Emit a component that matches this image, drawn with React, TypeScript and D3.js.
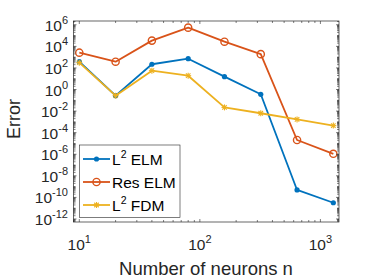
// @ts-nocheck
import React from "react";
import { scaleLog, line, range } from "d3";

const neurons = [10, 20, 40, 80, 160, 320, 640, 1280];
const l2Elm = [380, 0.27, 220, 720, 15.5, 0.36, 4.9e-10, 3.2e-11];
const resElm = [2600, 380, 3.4e4, 5.4e5, 2.7e4, 1900, 2.1e-5, 1.1e-6];
const l2Fdm = [310, 0.27, 56, 19, 0.022, 6.3e-3, 1.7e-3, 4.5e-4];

const xTickExps = [1, 2, 3];
const yTickExps = [6, 4, 2, 0, -2, -4, -6, -8, -10, -12];

const COLORS = ["#0072BD", "#D95319", "#EDB120"];
const FONT = "'Liberation Sans', Arial, Helvetica, sans-serif";
const AX = "#262626";

const box = { left: 73.5, right: 339, top: 21, bottom: 222 };

function Marker({ kind, x, y, color }) {
  if (kind === "dot") return <circle cx={x} cy={y} r={2.6} fill={color} />;
  if (kind === "circle")
    return <circle cx={x} cy={y} r={3.6} fill="none" stroke={color} strokeWidth={1.4} />;
  const s = 3;
  return (
    <g stroke={color} strokeWidth={1.1}>
      <line x1={x - s} x2={x + s} y1={y} y2={y} />
      <line x1={x} x2={x} y1={y - s} y2={y + s} />
      <line x1={x - s * 0.75} x2={x + s * 0.75} y1={y - s * 0.75} y2={y + s * 0.75} />
      <line x1={x - s * 0.75} x2={x + s * 0.75} y1={y + s * 0.75} y2={y - s * 0.75} />
    </g>
  );
}

export default function App() {
  const x = scaleLog().domain([8.95, 1426]).range([box.left, box.right]);
  const y = scaleLog()
    .domain([Math.pow(10, -12.28), Math.pow(10, 6.35)])
    .range([box.bottom, box.top]);

  const series = [
    { name: "L", sup: "2", rest: " ELM", values: l2Elm, marker: "dot" },
    { name: "Res ELM", sup: "", rest: "", values: resElm, marker: "circle" },
    { name: "L", sup: "2", rest: " FDM", values: l2Fdm, marker: "star" },
  ];

  const path = line()
    .x((d) => x(d[0]))
    .y((d) => y(d[1]));

  // minor ticks
  const xMinor = [];
  [1, 10, 100, 1000].forEach((b) =>
    range(2, 10).forEach((m) => {
      const v = b * m;
      if (v > 8.95 && v < 1426) xMinor.push(v);
    })
  );
  const yMinor = [];
  range(-13, 7).forEach((e) =>
    range(1, 10).forEach((m) => {
      const v = m * Math.pow(10, e);
      if (m === 1 && e % 2 === 0) return;
      if (Math.log10(v) > -12.28 && Math.log10(v) < 6.35) yMinor.push(v);
    })
  );

  const legendRows = [159, 182, 205];

  return (
    <div style={{ position: "fixed", left: 0, top: 0 }}>
      <svg width={374} height={280} style={{ display: "block", background: "#fff" }} fontFamily={FONT}>
        {/* series */}
        {series.map((s, i) => {
          const pts = neurons.map((n, k) => [n, s.values[k]]);
          return (
            <g key={i}>
              <path d={path(pts)} fill="none" stroke={COLORS[i]} strokeWidth={1.8} strokeLinejoin="round" />
              {pts.map((p, k) => (
                <Marker key={k} kind={s.marker} x={x(p[0])} y={y(p[1])} color={COLORS[i]} />
              ))}
            </g>
          );
        })}

        {/* axes box */}
        <rect
          x={box.left}
          y={box.top}
          width={box.right - box.left}
          height={box.bottom - box.top}
          fill="none"
          stroke={AX}
          strokeWidth={0.7}
        />
        <g stroke={AX} strokeWidth={0.6}>
          {xTickExps.map((e) => {
            const px = x(Math.pow(10, e));
            return (
              <g key={e}>
                <line x1={px} x2={px} y1={box.bottom} y2={box.bottom - 3} />
                <line x1={px} x2={px} y1={box.top} y2={box.top + 3} />
              </g>
            );
          })}
          {xMinor.map((v, i) => (
            <g key={i}>
              <line x1={x(v)} x2={x(v)} y1={box.bottom} y2={box.bottom - 2} />
              <line x1={x(v)} x2={x(v)} y1={box.top} y2={box.top + 2} />
            </g>
          ))}
          {yTickExps.map((e) => {
            const py = y(Math.pow(10, e));
            return (
              <g key={e}>
                <line x1={box.left} x2={box.left + 3} y1={py} y2={py} />
                <line x1={box.right} x2={box.right - 3} y1={py} y2={py} />
              </g>
            );
          })}
          {yMinor.map((v, i) => (
            <g key={i}>
              <line x1={box.left} x2={box.left + 2} y1={y(v)} y2={y(v)} />
              <line x1={box.right} x2={box.right - 2} y1={y(v)} y2={y(v)} />
            </g>
          ))}
        </g>

        {/* tick labels */}
        <g fill={AX} fontSize={15.5}>
          {xTickExps.map((e) => (
            <text key={e} x={x(Math.pow(10, e))} y={250} textAnchor="middle">
              10<tspan fontSize={11} dy={-7}>{e}</tspan>
            </text>
          ))}
          {yTickExps.map((e) => (
            <text key={e} x={68} y={y(Math.pow(10, e)) + 6} textAnchor="end">
              10<tspan fontSize={11} dy={-7}>{e}</tspan>
            </text>
          ))}
        </g>

        {/* axis labels */}
        <text x={206} y={275} textAnchor="middle" fontSize={18.5} fill={AX}>
          Number of neurons n
        </text>
        <text transform="translate(20,119) rotate(-90)" textAnchor="middle" fontSize={18} fill={AX}>
          Error
        </text>

        {/* legend */}
        <rect x={79.3} y={145} width={100.7} height={72.3} fill="#fff" stroke={AX} strokeWidth={0.6} />
        {series.map((s, i) => (
          <g key={i}>
            <line x1={83} x2={110} y1={legendRows[i]} y2={legendRows[i]} stroke={COLORS[i]} strokeWidth={1.8} />
            <Marker kind={s.marker} x={96.5} y={legendRows[i]} color={COLORS[i]} />
            <text x={112} y={legendRows[i] + 5.5} fontSize={15.5} fill="#000">
              {s.name}
              {s.sup && (
                <tspan fontSize={10.5} dy={-7}>
                  {s.sup}
                </tspan>
              )}
              {s.rest && <tspan dy={s.sup ? 7 : 0}>{s.rest}</tspan>}
            </text>
          </g>
        ))}
      </svg>
    </div>
  );
}
